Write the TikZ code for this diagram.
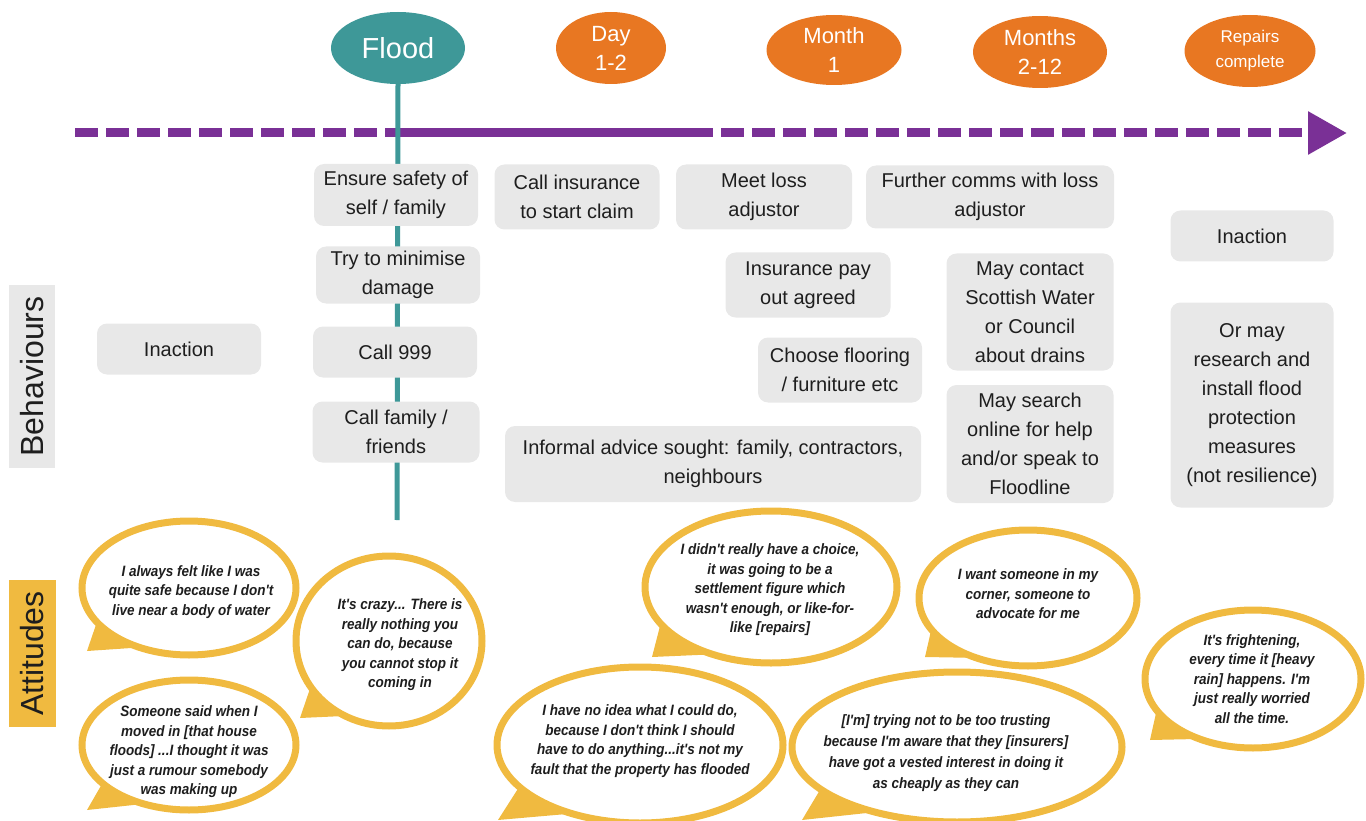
\documentclass[tikz,border=0pt]{standalone}
\usepackage{fontspec}
\setmainfont{Liberation Sans}
\newfontfamily\bubblefont[FakeStretch=0.9]{Liberation Sans}
\usetikzlibrary{shapes.geometric,arrows.meta}
\definecolor{orng}{RGB}{232,119,34}
\definecolor{teal2}{RGB}{62,152,152}
\definecolor{purp}{RGB}{122,48,150}
\definecolor{boxgray}{RGB}{232,232,232}
\definecolor{gold}{RGB}{240,186,64}
\definecolor{txt}{RGB}{30,30,30}
\pgfdeclarelayer{bg}
\pgfsetlayers{bg,main}
\begin{document}
\begin{tikzpicture}[x=1pt,y=-1pt,
  hdr/.style={ellipse, fill=orng, text=white, align=center, inner sep=0pt,
    font=\fontsize{22}{29}\selectfont},
  bbox/.style={fill=boxgray, rounded corners=10pt, inner sep=0pt, align=center,
    text=txt, font=\fontsize{20}{29}\selectfont},
  lab/.style={rotate=90, inner sep=0pt, text=txt, font=\fontsize{32}{36}\selectfont},
  bubble/.style={ellipse, draw=gold, line width=7pt, fill=white, inner sep=0pt},
  btext/.style={align=center, inner sep=0pt, text=txt,
    font=\bubblefont\bfseries\itshape\fontsize{15}{19.5}\selectfont},
  tline/.style={draw=purp, line width=9pt},
  tdash/.style={tline, dash pattern=on 23pt off 8pt},
  tail/.style={fill=gold}
]
\useasboundingbox (0,0) rectangle (1366,821);
\clip (0,0) rectangle (1366,821);

% timeline
\coordinate (tl0) at (75,133);
\coordinate (tlf) at (397,133);
\coordinate (tl2) at (690,133);
\coordinate (tl3) at (1347,133);
\draw[tdash] (tl0) -- (tlf);
\draw[tline] (tlf) -- (tl2);
\draw[tdash, -{Triangle[length=39pt,width=41pt]}] (tl2) -- (tl3);

% headers
\node[hdr, fill=teal2, minimum width=134pt, minimum height=72pt,
  font=\fontsize{29}{32}\selectfont] (flood) at (398,48) {Flood};
\coordinate (fend) at (397,520);
\draw[teal2, line width=5pt] (flood.south) -- (fend);
\node[hdr, minimum width=110pt, minimum height=72pt] (day) at (611,48) {Day\\1-2};
\node[hdr, minimum width=135pt, minimum height=70pt] (month) at (834,50) {Month\\1};
\node[hdr, minimum width=134pt, minimum height=72pt] (months) at (1040,52) {Months\\2-12};
\node[hdr, minimum width=131pt, minimum height=72pt,
  font=\fontsize{17}{25}\selectfont] (repairs) at (1250,51) {Repairs\\complete};

% side labels
\node[lab, fill=boxgray, minimum width=183pt, minimum height=46pt] (beh) at (32,376.5) {Behaviours};
\node[lab, fill=gold, minimum width=147pt, minimum height=47pt] (att) at (32.5,653.5) {Attitudes};

% behaviour boxes
\node[bbox, minimum width=164pt, minimum height=51pt] (inact1) at (179,349) {Inaction};
\node[bbox, minimum width=164pt, minimum height=62pt] (safety) at (396,195) {Ensure safety of\\self / family};
\node[bbox, minimum width=164pt, minimum height=57pt] (minim) at (398,275) {Try to minimise\\damage};
\node[bbox, minimum width=164pt, minimum height=51pt] (call999) at (395,352) {Call 999};
\node[bbox, minimum width=167pt, minimum height=61pt] (family) at (396,432) {Call family /\\friends};
\node[bbox, minimum width=165pt, minimum height=65pt] (insur) at (577,197) {Call insurance\\to start claim};
\node[bbox, minimum width=176pt, minimum height=65pt] (meet) at (764,197) {Meet loss\\adjustor};
\node[bbox, minimum width=248pt, minimum height=63pt] (further) at (990,197) {Further comms with loss\\adjustor};
\node[bbox, minimum width=165pt, minimum height=65pt] (payout) at (808,285) {Insurance pay\\out agreed};
\node[bbox, minimum width=164pt, minimum height=65pt] (floor) at (840,370) {Choose flooring\\/ furniture etc};
\node[bbox, minimum width=416pt, minimum height=76pt] (informal) at (713,464) {Informal advice sought: family, contractors,\\neighbours};
\node[bbox, minimum width=163pt, minimum height=51pt] (inact2) at (1252,236) {Inaction};
\node[bbox, minimum width=167pt, minimum height=117pt] (scot) at (1030,312) {May contact\\Scottish Water\\or Council\\about drains};
\node[bbox, minimum width=167pt, minimum height=118pt] (search) at (1030,444) {May search\\online for help\\and/or speak to\\Floodline};
\node[bbox, minimum width=163pt, minimum height=205pt] (research) at (1252,405) {Or may\\research and\\install flood\\protection\\measures\\(not resilience)};

% speech bubbles
\node[bubble, minimum width=214pt, minimum height=134pt] (b1) at (189,588) {};
\node[btext] (t1) at (191,592) {I always felt like I was\\quite safe because I don't\\live near a body of water};
\node[bubble, minimum width=186pt, minimum height=170pt] (b2) at (389,641) {};
\node[btext] (t2) at (400,645) {It's crazy... There is\\really nothing you\\can do, because\\you cannot stop it\\coming in};
\node[bubble, minimum width=214pt, minimum height=130pt] (b3) at (189,745) {};
\node[btext] (t3) at (189,752) {Someone said when I\\moved in [that house\\floods] ...I thought it was\\just a rumour somebody\\was making up};
\node[bubble, minimum width=252pt, minimum height=152pt] (b4) at (771,587) {};
\node[btext] (t4) at (770,590) {I didn't really have a choice,\\it was going to be a\\settlement figure which\\wasn't enough, or like-for-\\like [repairs]};
\node[bubble, minimum width=286pt, minimum height=156pt] (b5) at (640,745) {};
\node[btext] (t5) at (640,741) {I have no idea what I could do,\\because I don't think I should\\have to do anything...it's not my\\fault that the property has flooded};
\node[bubble, minimum width=330pt, minimum height=150pt] (b6) at (957,747) {};
\node[btext, font=\bubblefont\bfseries\itshape\fontsize{15}{21}\selectfont] (t6) at (946,753) {[I'm] trying not to be too trusting\\because I'm aware that they [insurers]\\have got a vested interest in doing it\\as cheaply as they can};
\node[bubble, minimum width=218pt, minimum height=136pt] (b7) at (1028,598) {};
\node[btext] (t7) at (1028,594) {I want someone in my\\corner, someone to\\advocate for me};
\node[bubble, minimum width=216pt, minimum height=138pt] (b8) at (1253,679) {};
\node[btext] (t8) at (1252,679) {It's frightening,\\every time it [heavy\\rain] happens. I'm\\just really worried\\all the time.};

% tails
\coordinate (p1) at (87,651);
\coordinate (p2) at (300,718);
\coordinate (p3) at (87,810);
\coordinate (p4) at (652,657);
\coordinate (p5) at (498,820);
\coordinate (p6) at (802,820);
\coordinate (p7) at (925,657);
\coordinate (p8) at (1150,740);
\begin{pgfonlayer}{bg}
\fill[tail] (b1.202) -- (p1) -- (b1.226) -- (b1.center) -- cycle;
\fill[tail] (b2.212) -- (p2) -- (b2.236) -- (b2.center) -- cycle;
\fill[tail] (b3.205) -- (p3) -- (b3.228) -- (b3.center) -- cycle;
\fill[tail] (b4.200) -- (p4) -- (b4.225) -- (b4.center) -- cycle;
\fill[tail] (b5.200) -- (p5) -- (b5.222) -- (b5.center) -- cycle;
\fill[tail] (b6.198) -- (p6) -- (b6.216) -- (b6.center) -- cycle;
\fill[tail] (b7.200) -- (p7) -- (b7.224) -- (b7.center) -- cycle;
\fill[tail] (b8.200) -- (p8) -- (b8.224) -- (b8.center) -- cycle;
\end{pgfonlayer}
\end{tikzpicture}
\end{document}
